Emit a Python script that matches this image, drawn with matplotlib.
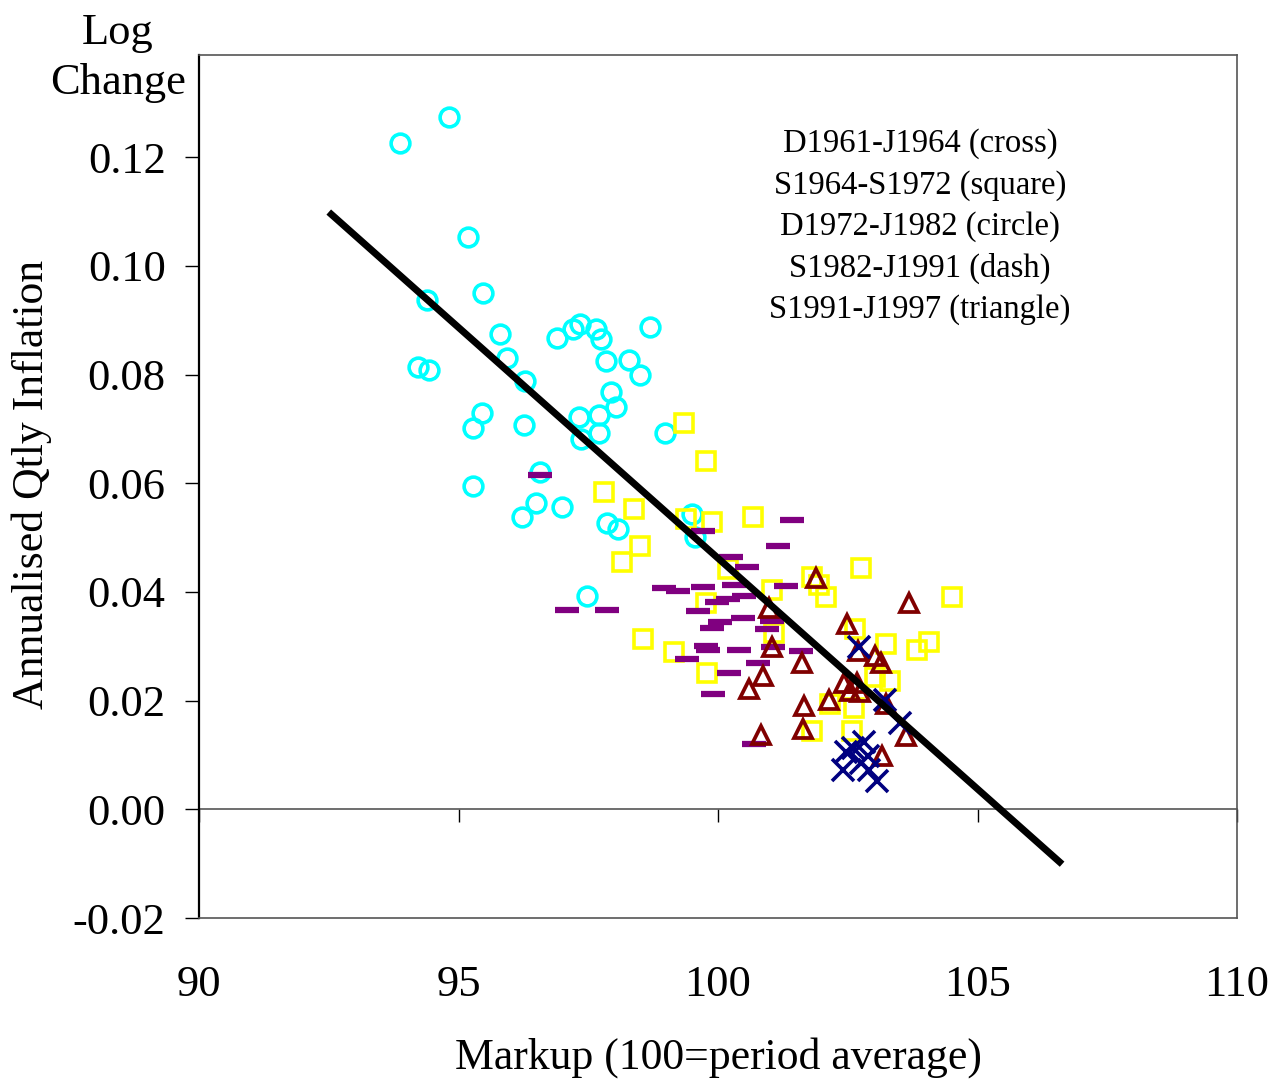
import matplotlib
matplotlib.use("Agg")
import matplotlib.pyplot as plt
import numpy as np

plt.rcParams["font.family"] = ["Liberation Serif", "DejaVu Serif"]

# D1961-J1964 (cross)
cross_x = [102.72, 103.22, 103.51, 102.41, 102.47, 102.60, 102.81, 102.89, 102.76, 102.91, 103.06]
cross_y = [0.0298, 0.0201, 0.0158, 0.0072, 0.0105, 0.0112, 0.0123, 0.0099, 0.0085, 0.0072, 0.0053]

# S1964-S1972 (square)
square_x = [99.34, 99.77, 97.80, 98.38, 98.50, 98.15, 99.38, 99.88, 100.67, 100.19, 99.77,
            98.55, 99.15, 99.79, 101.04, 101.08, 101.81, 101.95, 102.08, 102.76, 102.64,
            103.24, 103.83, 104.07, 104.51, 103.03, 103.31, 102.16, 102.62, 101.81, 102.58]
square_y = [0.0710, 0.0641, 0.0583, 0.0552, 0.0484, 0.0455, 0.0534, 0.0528, 0.0537, 0.0442, 0.0379,
            0.0313, 0.0289, 0.0250, 0.0403, 0.0324, 0.0427, 0.0412, 0.0390, 0.0444, 0.0331,
            0.0304, 0.0293, 0.0307, 0.0390, 0.0243, 0.0237, 0.0193, 0.0186, 0.0145, 0.0145]

# D1972-J1982 (circle)
circle_x = [93.87, 94.82, 95.18, 94.39, 95.47, 94.22, 94.43, 95.80, 95.93, 96.28, 95.45, 95.28, 96.26,
            96.90, 97.21, 97.34, 97.65, 97.75, 98.69, 97.84, 98.29, 98.50, 97.94, 98.03, 97.32, 97.71,
            97.71, 97.36, 98.98, 96.57, 95.28, 96.49, 96.22, 96.99, 97.86, 98.07, 99.50, 99.56, 97.48]
circle_y = [0.1226, 0.1274, 0.1053, 0.0937, 0.0950, 0.0814, 0.0808, 0.0874, 0.0830, 0.0788, 0.0729, 0.0701, 0.0707,
            0.0867, 0.0883, 0.0893, 0.0883, 0.0865, 0.0887, 0.0825, 0.0826, 0.0799, 0.0768, 0.0740, 0.0722, 0.0725,
            0.0692, 0.0681, 0.0692, 0.0620, 0.0595, 0.0563, 0.0537, 0.0556, 0.0526, 0.0515, 0.0543, 0.0501, 0.0392]

# S1982-J1991 (dash)
dash_x = [96.57, 97.09, 97.86, 99.71, 101.43, 101.16, 100.25, 100.56, 98.96, 99.23, 99.71, 100.31,
          101.31, 99.98, 100.19, 100.50, 99.61, 100.04, 99.88, 100.48, 101.04, 100.94, 99.77, 99.81,
          100.40, 101.06, 101.60, 99.40, 100.77, 100.21, 99.90, 100.69]
dash_y = [0.0615, 0.0366, 0.0366, 0.0512, 0.0532, 0.0484, 0.0464, 0.0445, 0.0407, 0.0401, 0.0409, 0.0412,
          0.0410, 0.0381, 0.0387, 0.0392, 0.0364, 0.0344, 0.0333, 0.0352, 0.0346, 0.0331, 0.0300, 0.0294,
          0.0294, 0.0298, 0.0291, 0.0276, 0.0269, 0.0250, 0.0212, 0.0121]

# S1991-J1997 (triangle)
tri_x = [101.89, 100.98, 101.04, 101.62, 100.87, 100.60, 102.49, 103.68, 102.70, 103.03, 103.14,
         102.43, 102.68, 102.54, 102.74, 102.14, 101.66, 103.24, 101.64, 100.83, 103.62, 103.16]
tri_y = [0.0425, 0.0370, 0.0298, 0.0269, 0.0245, 0.0221, 0.0341, 0.0379, 0.0291, 0.0282, 0.0269,
         0.0232, 0.0232, 0.0217, 0.0215, 0.0202, 0.0190, 0.0193, 0.0147, 0.0136, 0.0134, 0.0099]

# fitted line
fit_x = [92.5, 106.63]
fit_y = [0.1099, -0.0101]

legend_lines = ["D1961-J1964 (cross)", "S1964-S1972 (square)", "D1972-J1982 (circle)",
                "S1982-J1991 (dash)", "S1991-J1997 (triangle)"]

fig = plt.figure(figsize=(12.74, 10.81), dpi=100)
ax = fig.add_axes([199 / 1274, 1 - 918 / 1081, (1237 - 199) / 1274, (918 - 55) / 1081])

ymin, ymax = -0.02, 0.1388
ax.set_xlim(90, 110)
ax.set_ylim(ymin, ymax)

ax.plot(circle_x, circle_y, linestyle="none", marker="o", markersize=13.5,
        markerfacecolor="none", markeredgecolor="#00FFFF", markeredgewidth=2.6, zorder=3)
ax.plot(square_x, square_y, linestyle="none", marker="s", markersize=13,
        markerfacecolor="none", markeredgecolor="#FFFF00", markeredgewidth=2.6, zorder=3)
ax.plot(dash_x, dash_y, linestyle="none", marker="_", markersize=17,
        markeredgecolor="#800080", markeredgewidth=4.5, zorder=3)
ax.plot(tri_x, tri_y, linestyle="none", marker="^", markersize=13.5,
        markerfacecolor="none", markeredgecolor="#800000", markeredgewidth=2.7, zorder=3)
ax.plot(cross_x, cross_y, linestyle="none", marker="x", markersize=15.5,
        markeredgecolor="#000080", markeredgewidth=2.6, zorder=3)
ax.plot(fit_x, fit_y, color="black", linewidth=5, solid_capstyle="butt", zorder=4)

# frame
for side in ["top", "right", "bottom"]:
    ax.spines[side].set_color("#555555")
    ax.spines[side].set_linewidth(1.2)
ax.spines["left"].set_color("black")
ax.spines["left"].set_linewidth(1.6)

ax.set_yticks([-0.02, 0.0, 0.02, 0.04, 0.06, 0.08, 0.10, 0.12])
ax.set_yticklabels([f"{v:.2f}" for v in [-0.02, 0.0, 0.02, 0.04, 0.06, 0.08, 0.10, 0.12]])
ax.tick_params(axis="y", direction="out", length=10, width=1.0, pad=14, labelsize=32)

ax.set_xticks([90, 95, 100, 105, 110])
ax.tick_params(axis="x", length=0, pad=34, labelsize=32)

# zero line with its own tick marks
zero_frac = (0 - ymin) / (ymax - ymin)
sec = ax.secondary_xaxis(zero_frac)
sec.set_xticks([90, 95, 100, 105, 110])
sec.tick_params(axis="x", direction="out", length=9.5, width=1.0, labelbottom=False, labeltop=False,
                color="black")
sec.spines["bottom"].set_color("#555555")
sec.spines["bottom"].set_linewidth(1.2)

# legend-like text block
for i, line in enumerate(legend_lines):
    fig.text(920 / 1274, 1 - (144 + i * 41.5) / 1081, line, ha="center", va="center", fontsize=23.5)

fig.text(118 / 1274, 1 - 58 / 1081, "Log\nChange", ha="center", va="center", fontsize=32,
         linespacing=1.3)
fig.text(32 / 1274, 1 - 484 / 1081, "Annualised Qtly Inflation", ha="center", va="center",
         rotation=90, fontsize=31.5)
fig.text(718 / 1274, 1 - 1058 / 1081, "Markup (100=period average)", ha="center", va="center",
         fontsize=31.5)

fig.savefig("out.png", dpi=100)
